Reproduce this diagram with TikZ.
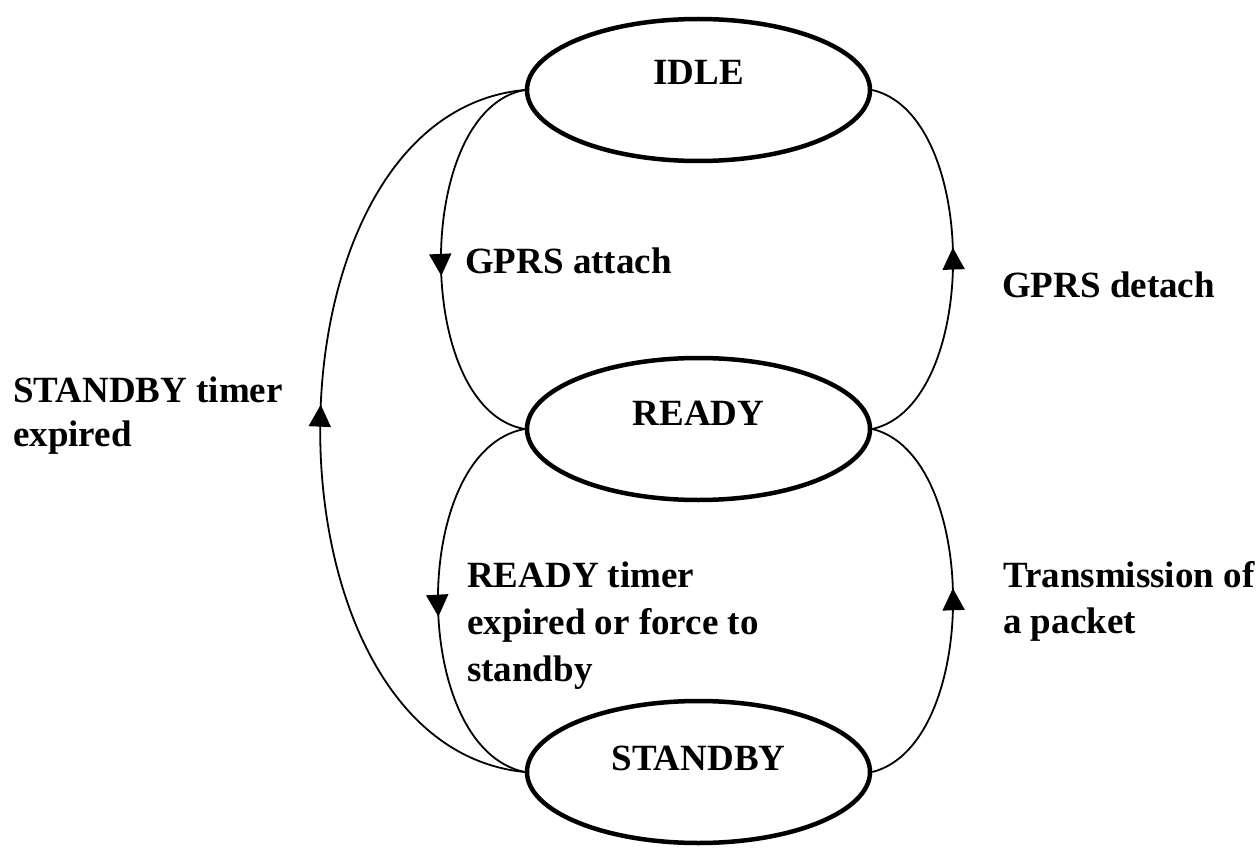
\documentclass[tikz,border=0pt]{standalone}
\usepackage{fontspec}
\setmainfont{Liberation Serif}
\usetikzlibrary{shapes.geometric,arrows.meta,decorations.markings}
\begin{document}
\begin{tikzpicture}[x=1pt,y=-1pt,
  state/.style={ellipse, draw, line width=4.5pt, minimum width=343pt, minimum height=142pt, inner sep=0pt},
  stxt/.style={font=\fontsize{37}{43}\selectfont\bfseries, inner sep=0pt},
  lbl/.style={font=\fontsize{37}{46}\selectfont\bfseries, inner sep=0pt, align=left, anchor=base west},
  trans/.style={line width=1.8pt, postaction={decorate},
    decoration={markings, mark=at position #1 with {\arrow{Triangle[width=22pt,length=22pt]}}}},
]
\useasboundingbox (0,0) rectangle (1259,848);
\node[state, label={[stxt,name=idlet,yshift=18pt]center:IDLE}] (idle) at (698.5,90) {};
\node[state, label={[stxt,name=readyt,yshift=16pt]center:READY}] (ready) at (698.5,429) {};
\node[state, label={[stxt,name=standbyt,yshift=14pt]center:STANDBY}] (standby) at (698.5,772) {};

\draw[trans=0.54] (idle.west) .. controls (413,110) and (413,410) .. (ready.west);
\draw[trans=0.53] (standby.west) .. controls (252,745) and (252,115) .. (idle.west);
\draw[trans=0.53] (ready.east) .. controls (980,405) and (980,115) .. (idle.east);
\draw[trans=0.54] (ready.west) .. controls (409,450) and (409,748) .. (standby.west);
\draw[trans=0.53] (standby.east) .. controls (980,745) and (980,455) .. (ready.east);

\node[lbl] (attach) at (465,273) {GPRS attach};
\node[lbl] (detach) at (1002,297) {GPRS detach};
\node[lbl, font=\fontsize{37}{44}\selectfont\bfseries] (sbtimer) at (13,446) {STANDBY timer\\expired};
\node[lbl, font=\fontsize{37}{47}\selectfont\bfseries] (rdtimer) at (467,681) {READY timer\\expired or force to\\standby};
\node[lbl] (transm) at (1003,633) {Transmission of\\a packet};
\end{tikzpicture}
\end{document}
